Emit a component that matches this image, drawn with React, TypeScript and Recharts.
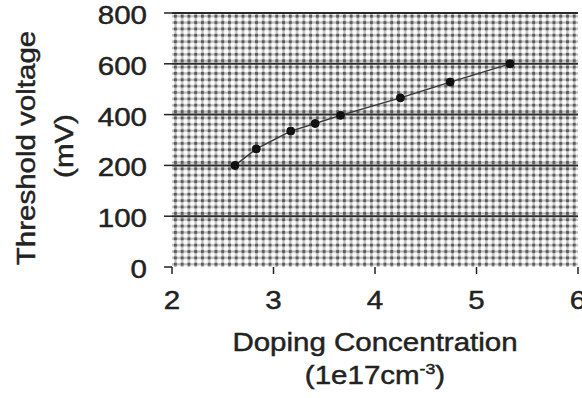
import React from "react";
import {
  LineChart,
  Line,
  XAxis,
  YAxis,
  ReferenceArea,
  ReferenceLine,
} from "recharts";

// doping concentration (1e17 cm^-3) and threshold voltage (mV)
const dopingConc = [2.62, 2.83, 3.17, 3.41, 3.66, 4.25, 4.74, 5.33];
const thresholdMv = [200, 265, 335, 365, 397, 466, 528, 600];

// the y axis is not linear: ticks are evenly spaced but labelled like this
const yTickLabels = [0, 100, 200, 400, 600, 800];
const xTicks = [2, 3, 4, 5, 6];

const FONT = '"Liberation Sans", Arial, Helvetica, sans-serif';
const INK = "#222";
const STRETCH = 1.18;

// map a mV value onto the evenly spaced tick index
function toAxisPos(v: number) {
  for (let i = 0; i < yTickLabels.length - 1; i++) {
    const lo = yTickLabels[i];
    const hi = yTickLabels[i + 1];
    if (v <= hi) return i + (v - lo) / (hi - lo);
  }
  return yTickLabels.length - 1;
}

const data = dopingConc.map((x, i) => ({ x, y: toAxisPos(thresholdMv[i]) }));
const yTickIdx = yTickLabels.map((_, i) => i);

const textStyle = {
  fontSize: 25,
  fontFamily: FONT,
  fill: INK,
  stroke: INK,
  strokeWidth: 0.45,
};

function YTick(props: any) {
  const { x, y, payload } = props;
  return (
    <g transform={`translate(${x},${y})`}>
      <text transform={`scale(${STRETCH},1)`} textAnchor="end" dy={11} {...textStyle}>
        {yTickLabels[payload.value]}
      </text>
    </g>
  );
}

function XTick(props: any) {
  const { x, y, payload } = props;
  return (
    <g transform={`translate(${x},${y})`}>
      <text transform={`scale(${STRETCH},1)`} textAnchor="middle" dy={16} {...textStyle}>
        {payload.value}
      </text>
    </g>
  );
}

function XLabel(props: any) {
  const vb = props.viewBox;
  const cx = vb.x + vb.width / 2;
  return (
    <g>
      <g transform={`translate(${cx},${vb.y + 84})`}>
        <text transform={`scale(${STRETCH},1)`} textAnchor="middle" {...textStyle}>
          Doping Concentration
        </text>
      </g>
      <g transform={`translate(${cx},${vb.y + 117})`}>
        <text transform={`scale(${STRETCH},1)`} textAnchor="middle" {...textStyle}>
          (1e17cm
          <tspan fontSize={15} dy={-10}>
            -3
          </tspan>
          <tspan dy={10}>)</tspan>
        </text>
      </g>
    </g>
  );
}

function YLabel(props: any) {
  const vb = props.viewBox;
  const cy = vb.y + vb.height / 2 + 8;
  return (
    <g>
      <g transform={`translate(35,${cy}) rotate(-90)`}>
        <text transform={`scale(${STRETCH},1)`} textAnchor="middle" {...textStyle}>
          Threshold voltage
        </text>
      </g>
      <g transform={`translate(73,${cy - 2}) rotate(-90)`}>
        <text transform={`scale(${STRETCH},1)`} textAnchor="middle" {...textStyle}>
          (mV)
        </text>
      </g>
    </g>
  );
}

export default function App() {
  return (
    <div style={{ position: "absolute", left: 0, top: 0, background: "#fff" }}>
      <LineChart
        width={582}
        height={398}
        data={data}
        margin={{ top: 13, right: 4, bottom: 0, left: 0 }}
      >
        <defs>
          <pattern
            id="dotgrid"
            x={172}
            y={13}
            width={6.76}
            height={6.36}
            patternUnits="userSpaceOnUse"
          >
            <rect width={6.76} height={6.36} fill="#fff" />
            <rect x={0} y={2.1} width={6.76} height={2.2} fill="#bdbdbd" />
            <rect x={2.3} y={0} width={2.2} height={6.36} fill="#bdbdbd" />
            <rect x={1.9} y={1.7} width={3} height={3} fill="#5c5c5c" />
          </pattern>
        </defs>
        <XAxis
          dataKey="x"
          type="number"
          domain={[2, 6]}
          ticks={xTicks}
          axisLine={false}
          tickLine={{ stroke: INK, strokeWidth: 1.5 }}
          tickSize={7}
          tickMargin={19}
          tick={<XTick />}
          height={131}
          label={{ content: (p: any) => <XLabel {...p} /> }}
        />
        <YAxis
          type="number"
          domain={[0, yTickLabels.length - 1]}
          ticks={yTickIdx}
          axisLine={false}
          tickLine={{ stroke: INK, strokeWidth: 1.5 }}
          tickSize={8}
          tickMargin={17}
          tick={<YTick />}
          width={172}
          label={{ content: (p: any) => <YLabel {...p} /> }}
        />
        <ReferenceArea
          x1={2}
          x2={6}
          y1={0}
          y2={yTickLabels.length - 1}
          fill="url(#dotgrid)"
          fillOpacity={1}
          stroke="none"
        />
        {yTickIdx.slice(1).map((v) => (
          <ReferenceLine key={v} y={v} stroke="#2a2a2a" strokeWidth={2} />
        ))}
        <Line
          dataKey="y"
          type="linear"
          stroke="#3a3a3a"
          strokeWidth={1.4}
          dot={{ r: 4, fill: "#111", stroke: "#111", strokeWidth: 1 }}
          isAnimationActive={false}
        />
      </LineChart>
    </div>
  );
}
